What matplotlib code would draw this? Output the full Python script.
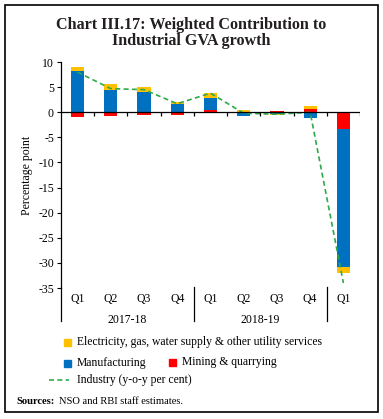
import matplotlib
matplotlib.use("Agg")
import matplotlib.pyplot as plt
from matplotlib.lines import Line2D
from matplotlib.patches import Rectangle
import numpy as np

plt.rcParams["font.family"] = ["Liberation Serif", "DejaVu Serif"]
plt.rcParams["axes.unicode_minus"] = False

quarters = ["Q1", "Q2", "Q3", "Q4", "Q1", "Q2", "Q3", "Q4", "Q1"]
years = ["2017-18", "2018-19"]
mining = [-0.9, -0.7, -0.5, -0.6, 0.5, -0.1, 0.25, 0.65, -3.3]
manufacturing = [8.3, 4.5, 4.1, 1.6, 2.4, -0.6, -0.3, -1.1, -27.6]
electricity = [0.8, 1.1, 0.95, 0.5, 1.0, 0.4, -0.3, 0.55, -1.1]
industry = [8.0, 4.7, 4.5, 1.7, 3.8, -0.2, -0.4, 0.0, -34.0]

c_elec = "#FFC000"
c_mfg = "#0070C0"
c_min = "#FF0000"
c_ind = "#2EAA4A"

fig = plt.figure(figsize=(3.83, 4.19), dpi=100)
ax = fig.add_axes([0.159, 0.3126, 0.781, 0.5394])

# stacked bars, positives up and negatives down in series order
x = np.arange(len(quarters))
pos = np.zeros(len(x))
neg = np.zeros(len(x))
for vals, col in [(mining, c_min), (manufacturing, c_mfg), (electricity, c_elec)]:
    v = np.array(vals)
    bottom = np.where(v >= 0, pos, neg)
    ax.bar(x, v, bottom=bottom, width=0.4, color=col, zorder=2)
    pos = pos + np.where(v >= 0, v, 0)
    neg = neg + np.where(v < 0, v, 0)

ax.plot(x, industry, color=c_ind, linestyle=(0, (3, 2)), lw=1.2, zorder=3)

ax.axhline(0, color="black", lw=0.9, zorder=4)
bounds = np.arange(len(x)) + 0.5
ax.vlines(bounds, -0.8, 0, color="black", lw=0.9, zorder=4)

ax.set_xlim(-0.5, len(x) - 0.5)
ax.set_ylim(-35, 10)
ax.set_yticks(np.arange(-35, 11, 5))
ax.tick_params(axis="y", labelsize=8.5, length=3, width=0.8, pad=2)
ax.set_xticks([])
for s in ["top", "right", "bottom"]:
    ax.spines[s].set_visible(False)
ax.spines["left"].set_linewidth(0.9)
ax.set_ylabel("Percentage point", fontsize=8.5, labelpad=4)

# category labels below the plot
for i, q in enumerate(quarters):
    ax.text(i, -0.02, q, transform=ax.get_xaxis_transform(), ha="center", va="top", fontsize=8.5)
for j, yr in enumerate(years):
    ax.text(j * 4 + 1.5, -0.115, yr, transform=ax.get_xaxis_transform(), ha="center", va="top", fontsize=8.5)
for sx in [-0.5, 3.5, 7.5]:
    ax.add_line(Line2D([sx, sx], [0.005 if sx != -0.5 else 0, -0.145], transform=ax.get_xaxis_transform(),
                       color="black", lw=0.9, clip_on=False))

# title
fig.text(0.5, 0.930, "Chart III.17: Weighted Contribution to", ha="center", va="baseline",
         fontsize=11.6, fontweight="bold", color="#231f20")
fig.text(0.5, 0.893, "Industrial GVA growth", ha="center", va="baseline",
         fontsize=11.6, fontweight="bold", color="#231f20")

# legend
def sq(xp, yp, col):
    fig.add_artist(Rectangle((xp / 383, 1 - (yp + 3.5) / 419), 7 / 383, 7 / 419, color=col,
                             transform=fig.transFigure))

sq(64, 342, c_elec)
fig.text(77 / 383, 1 - 342 / 419, "Electricity, gas, water supply & other utility services",
         ha="left", va="center", fontsize=8.4)
sq(64, 363, c_mfg)
fig.text(77 / 383, 1 - 363 / 419, "Manufacturing", ha="left", va="center", fontsize=8.4)
sq(169, 362, c_min)
fig.text(182 / 383, 1 - 362 / 419, "Mining & quarrying", ha="left", va="center", fontsize=8.4)
fig.add_artist(Line2D([49 / 383, 69 / 383], [1 - 380 / 419] * 2, color=c_ind, lw=1.2,
                      linestyle=(0, (3, 2)), transform=fig.transFigure))
fig.text(77 / 383, 1 - 380 / 419, "Industry (y-o-y per cent)", ha="left", va="center", fontsize=8.4)

src = fig.text(16 / 383, 1 - 401 / 419, "Sources:", ha="left", va="center", fontsize=7.6, fontweight="bold")
fig.add_artist(plt.Annotation("NSO and RBI staff estimates.", xy=(1, 0.5), xycoords=src,
                              xytext=(3, 0), textcoords="offset points", ha="left", va="center",
                              fontsize=7.6))

fig.add_artist(Rectangle((5 / 383, 1 - 412 / 419), 373 / 383, 407 / 419, fill=False,
                         edgecolor="black", lw=1.2, transform=fig.transFigure))

fig.savefig("out.png", dpi=100)
